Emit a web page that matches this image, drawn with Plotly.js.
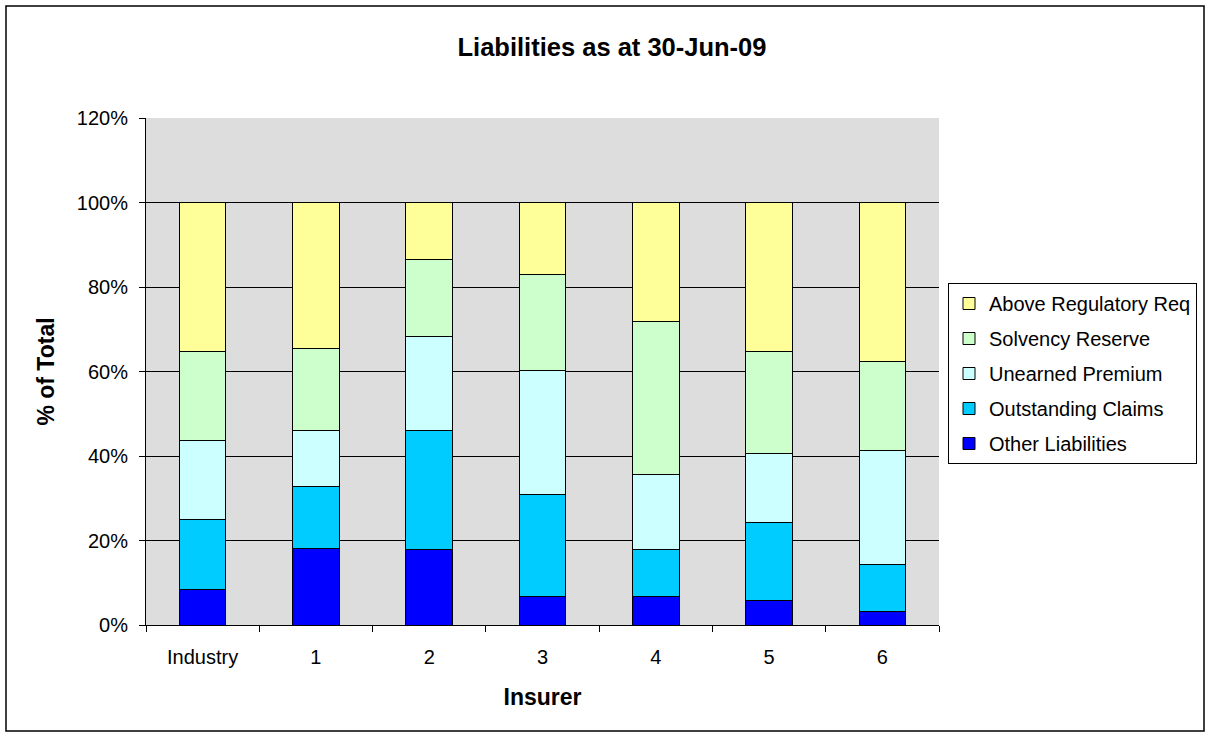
<!DOCTYPE html>
<html>
<head>
<meta charset="utf-8">
<script src="https://cdn.plot.ly/plotly-3.0.1.min.js"></script>
<style>html,body{margin:0;padding:0;background:#fff;}#chart{width:1211px;height:738px;}</style>
</head>
<body>
<div id="chart"></div>
<script>
const categories = ["Industry", "1", "2", "3", "4", "5", "6"];
const otherLiabilities   = [8.3, 18.2, 17.9, 6.8, 6.8, 5.9, 3.2];
const outstandingClaims  = [16.7, 14.7, 28.2, 24.2, 11.1, 18.3, 11.1];
const unearnedPremium    = [18.6, 13.2, 22.2, 29.3, 17.8, 16.3, 26.9];
const solvencyReserve    = [21.1, 19.4, 18.2, 22.7, 36.1, 24.2, 21.1];
const aboveRegulatoryReq = [35.3, 34.5, 13.5, 17.0, 28.2, 35.3, 37.7];
const yTickVals = [0, 20, 40, 60, 80, 100, 120];
const yTickText = ["0%", "20%", "40%", "60%", "80%", "100%", "120%"];

const seriesDefs = [
  {name: "Other Liabilities", y: otherLiabilities, color: "#0000FF", rank: 5},
  {name: "Outstanding Claims", y: outstandingClaims, color: "#00CCFF", rank: 4},
  {name: "Unearned Premium", y: unearnedPremium, color: "#CCFFFF", rank: 3},
  {name: "Solvency Reserve", y: solvencyReserve, color: "#CCFFCC", rank: 2},
  {name: "Above Regulatory Req", y: aboveRegulatoryReq, color: "#FFFF99", rank: 1}
];

const traces = seriesDefs.map(s => ({
  type: "bar",
  name: s.name,
  x: categories,
  y: s.y,
  legendgroup: s.name,
  legendrank: s.rank,
  marker: {color: s.color, line: {color: "#000000", width: 1}},
  hoverinfo: "x+y+name"
}));

const font = "Liberation Sans, Arial, sans-serif";
const layout = {
  width: 1211, height: 738,
  margin: {l: 146, r: 272, t: 118, b: 113},
  paper_bgcolor: "#ffffff",
  plot_bgcolor: "#DDDDDD",
  barmode: "stack",
  bargap: 0.59,
  font: {family: font, size: 20, color: "#000"},
  title: {text: "<b>Liabilities as at 30-Jun-09</b>", x: 612 / 1211, xref: "container", xanchor: "center",
          y: 1 - 47/738, yref: "container", yanchor: "middle",
          font: {family: font, size: 25.5, color: "#000"}},
  xaxis: {
    type: "category",
    showline: true, linecolor: "#000", linewidth: 1,
    ticks: "outside", ticklen: 6, tickcolor: "#000", tickson: "boundaries",
    tickfont: {family: font, size: 20},
    ticklabelstandoff: 14,
    title: {text: "<b>Insurer</b>", font: {family: font, size: 23}, standoff: 21},
    mirror: false, zeroline: false
  },
  yaxis: {
    range: [0, 120],
    tickvals: yTickVals, ticktext: yTickText,
    showgrid: true, gridcolor: "#000", gridwidth: 1,
    showline: true, linecolor: "#000", linewidth: 1,
    ticks: "outside", ticklen: 6, tickcolor: "#000",
    tickfont: {family: font, size: 20},
    ticklabelstandoff: 7,
    title: {text: "<b>% of Total</b>", font: {family: font, size: 23}, standoff: 15},
    zeroline: false
  },
  showlegend: true,
  legend: {
    x: (948 - 146) / 793, xanchor: "left",
    y: (625 - 283) / 507, yanchor: "top",
    bgcolor: "#ffffff", bordercolor: "#000", borderwidth: 1,
    traceorder: "grouped", tracegroupgap: 6,
    itemwidth: 30,
    font: {family: font, size: 20}
  },
  shapes: [
    {type: "rect", xref: "paper", yref: "paper",
     x0: (6 - 146) / 793, x1: (1204 - 146) / 793,
     y0: (625 - 731) / 507, y1: (625 - 6) / 507,
     line: {color: "#000", width: 1.5}, fillcolor: "rgba(0,0,0,0)", layer: "below"}
  ]
};

Plotly.newPlot("chart", traces, layout, {displayModeBar: false, staticPlot: true});
</script>
</body>
</html>
